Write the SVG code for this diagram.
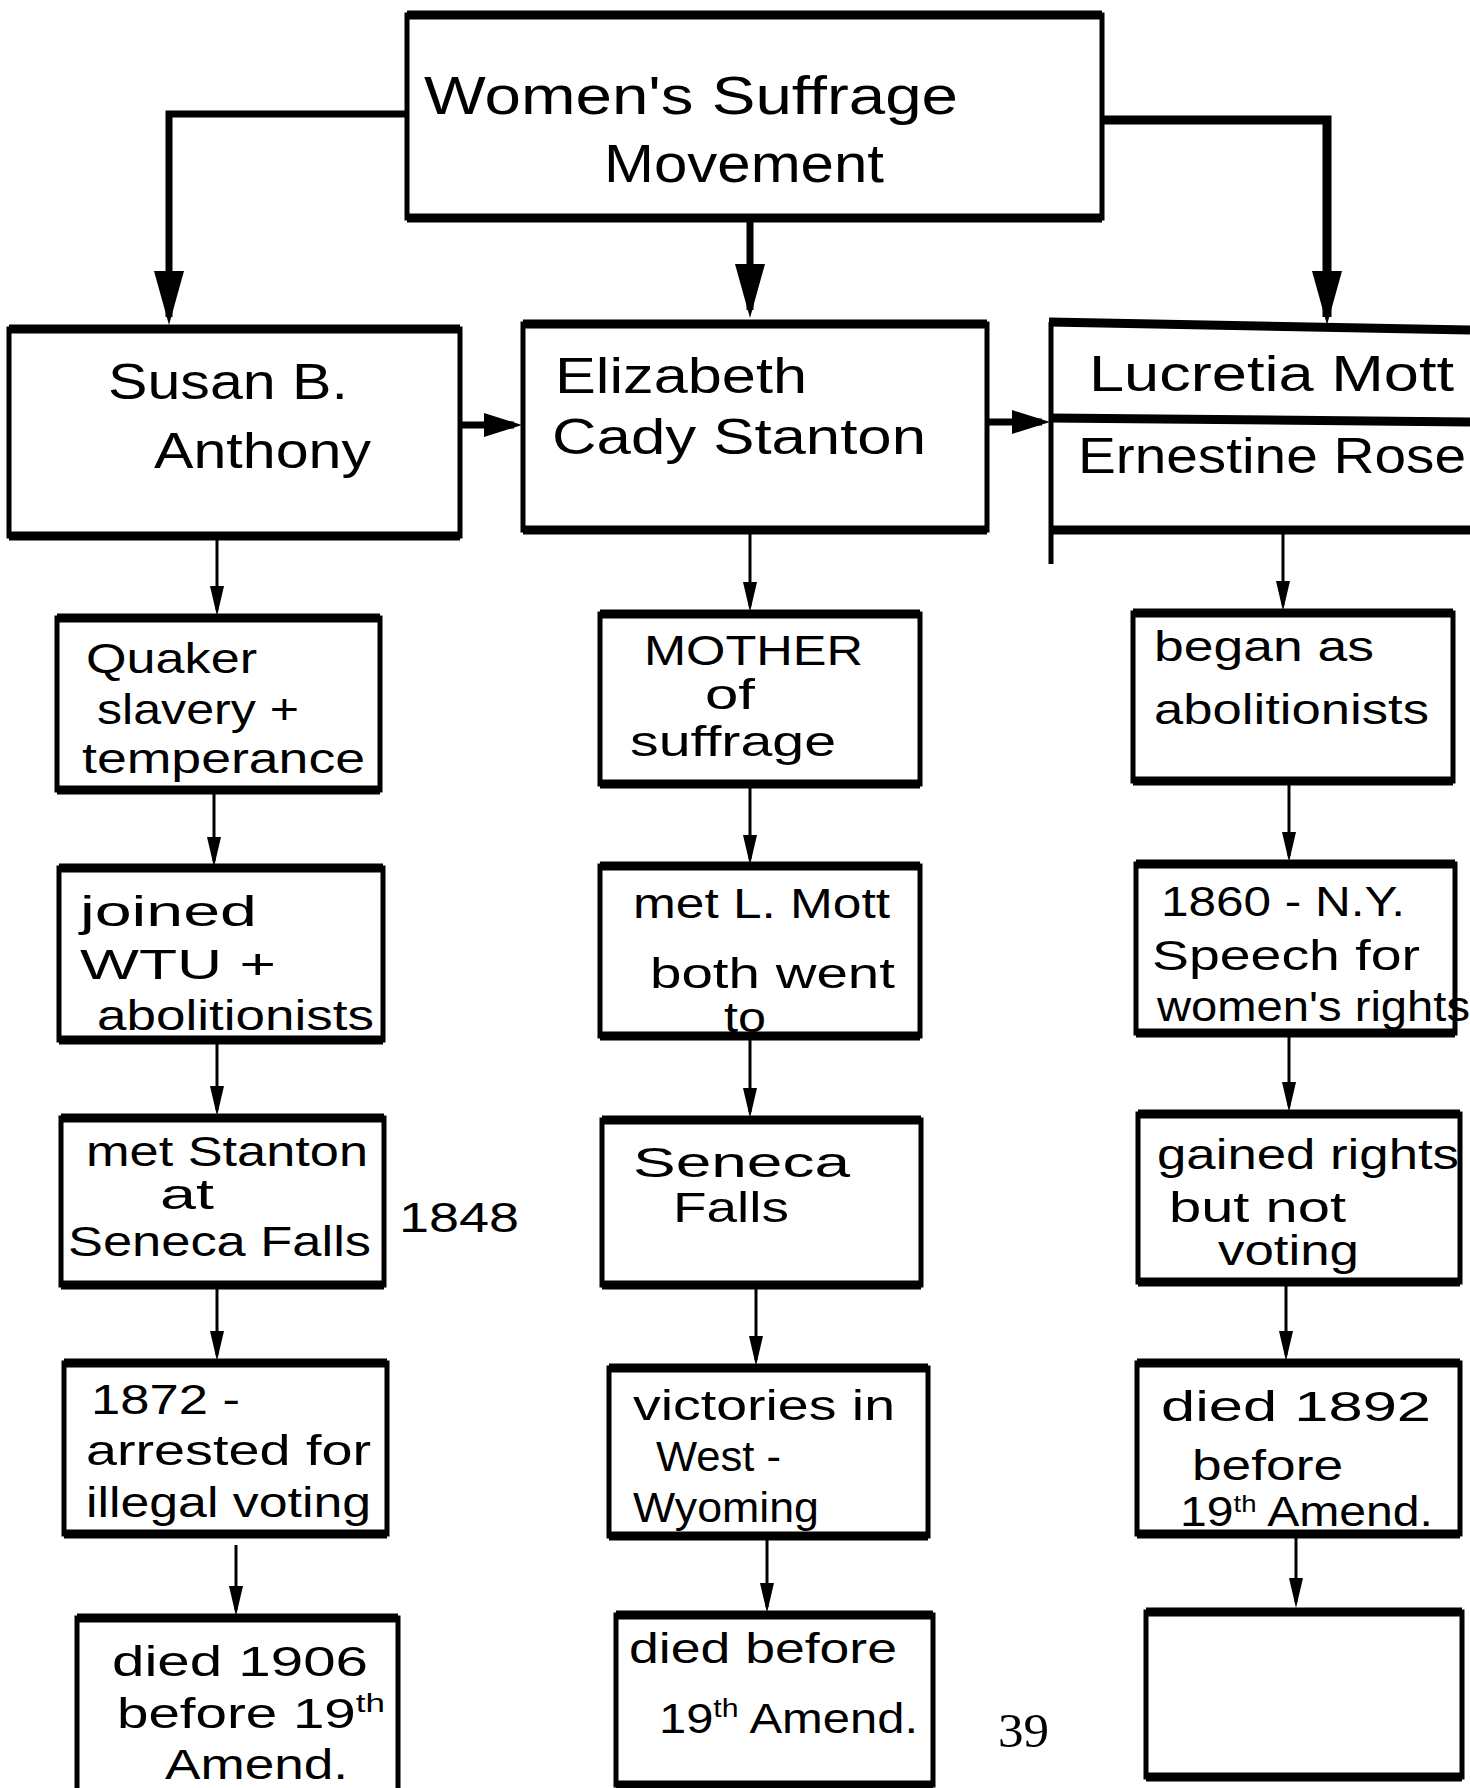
<svg xmlns="http://www.w3.org/2000/svg" width="1470" height="1788" viewBox="0 0 1470 1788">
<style>
.bg{fill:#fff}
.box{fill:#fff;stroke:#000;stroke-width:5}
.edge{fill:none;stroke:#000;stroke-width:9}
.t{font-family:"Liberation Sans",Arial,sans-serif;fill:#000;font-size:42px}
.big{font-size:54px}
.mid{font-size:50px}
.pg{font-family:"Liberation Serif","Times New Roman",serif;font-size:48px;fill:#000}
.c{fill:none;stroke:#000;stroke-width:3}
.ct{fill:none;stroke:#000;stroke-width:7}
</style>
<defs>
<marker id="ah" viewBox="0 0 30 14" refX="24" refY="7" markerWidth="30" markerHeight="14" markerUnits="userSpaceOnUse" orient="auto"><path d="M0,0 L30,7 L0,14 z" fill="#000"/></marker>
<marker id="ahL" viewBox="0 0 54 30" refX="46" refY="15" markerWidth="54" markerHeight="30" markerUnits="userSpaceOnUse" orient="auto"><path d="M0,0 L54,15 L0,30 z" fill="#000"/></marker>
<marker id="ahH" viewBox="0 0 38 24" refX="30" refY="12" markerWidth="38" markerHeight="24" markerUnits="userSpaceOnUse" orient="auto"><path d="M0,0 L38,12 L0,24 z" fill="#000"/></marker>
</defs>
<rect class="bg" x="0" y="0" width="1470" height="1788"/>

<g id="connectors">
<path class="ct" d="M407,114 H169 V317" marker-end="url(#ahL)"/>
<path class="ct" d="M750,222 V310" marker-end="url(#ahL)"/>
<path class="ct" d="M1102,120 H1327 V317" marker-end="url(#ahL)" style="stroke-width:9"/>
<path class="ct" d="M460,425 H514" marker-end="url(#ahH)"/>
<path class="ct" d="M987,422 H1042" marker-end="url(#ahH)"/>
<path class="c" d="M217,538 V610" marker-end="url(#ah)"/>
<path class="c" d="M750,531 V606" marker-end="url(#ah)"/>
<path class="c" d="M1283,530 V605" marker-end="url(#ah)"/>
<path class="c" d="M214,791 V861" marker-end="url(#ah)"/>
<path class="c" d="M750,784 V859" marker-end="url(#ah)"/>
<path class="c" d="M1289,781 V856" marker-end="url(#ah)"/>
<path class="c" d="M217,1040 V1110" marker-end="url(#ah)"/>
<path class="c" d="M750,1036 V1112" marker-end="url(#ah)"/>
<path class="c" d="M1289,1033 V1106" marker-end="url(#ah)"/>
<path class="c" d="M217,1285 V1355" marker-end="url(#ah)"/>
<path class="c" d="M756,1285 V1360" marker-end="url(#ah)"/>
<path class="c" d="M1286,1282 V1355" marker-end="url(#ah)"/>
<path class="c" d="M236,1545 V1610" marker-end="url(#ah)"/>
<path class="c" d="M767,1536 V1607" marker-end="url(#ah)"/>
<path class="c" d="M1296,1534 V1602" marker-end="url(#ah)"/>
</g>

<g id="n-title">
<rect class="box" x="407" y="15" width="695" height="203"/>
<path class="edge" d="M407,15 H1102 M407,218 H1102"/>
<text class="t big" x="424" y="114" textLength="534" lengthAdjust="spacingAndGlyphs">Women's Suffrage</text>
<text class="t big" x="604" y="182" textLength="280" lengthAdjust="spacingAndGlyphs">Movement</text>
</g>

<g id="n-anthony">
<rect class="box" x="9" y="329" width="451" height="207"/>
<path class="edge" d="M9,329 H460 M9,536 H460"/>
<text class="t mid" x="108" y="399" textLength="240" lengthAdjust="spacingAndGlyphs">Susan B.</text>
<text class="t mid" x="154" y="468" textLength="217" lengthAdjust="spacingAndGlyphs">Anthony</text>
</g>

<g id="n-stanton">
<rect class="box" x="523" y="324" width="464" height="206"/>
<path class="edge" d="M523,324 H987 M523,530 H987"/>
<text class="t mid" x="555" y="393" textLength="252" lengthAdjust="spacingAndGlyphs">Elizabeth</text>
<text class="t mid" x="552" y="454" textLength="374" lengthAdjust="spacingAndGlyphs">Cady Stanton</text>
</g>

<g id="n-mott-rose">
<path class="edge" d="M1049,322 L1470,330 M1050,418 L1470,422 M1050,530 H1470"/>
<path class="box" d="M1051,322 V564" fill="none"/>
<text class="t mid" x="1089" y="391" textLength="365" lengthAdjust="spacingAndGlyphs">Lucretia Mott</text>
<text class="t mid" x="1078" y="473" textLength="388" lengthAdjust="spacingAndGlyphs">Ernestine Rose</text>
</g>

<g id="n-quaker">
<rect class="box" x="57" y="618" width="323" height="172"/>
<path class="edge" d="M57,618 H380 M57,790 H380"/>
<text class="t" x="86" y="673" textLength="171" lengthAdjust="spacingAndGlyphs">Quaker</text>
<text class="t" x="97" y="724" textLength="202" lengthAdjust="spacingAndGlyphs">slavery +</text>
<text class="t" x="82" y="773" textLength="283" lengthAdjust="spacingAndGlyphs">temperance</text>
</g>

<g id="n-mother">
<rect class="box" x="600" y="614" width="320" height="170"/>
<path class="edge" d="M600,614 H920 M600,784 H920"/>
<text class="t" x="644" y="665" textLength="219" lengthAdjust="spacingAndGlyphs">MOTHER</text>
<text class="t" x="705" y="709" font-size="34" textLength="50" lengthAdjust="spacingAndGlyphs">of</text>
<text class="t" x="630" y="756" font-size="40" textLength="206" lengthAdjust="spacingAndGlyphs">suffrage</text>
</g>

<g id="n-began">
<rect class="box" x="1133" y="613" width="320" height="168"/>
<path class="edge" d="M1133,613 H1453 M1133,781 H1453"/>
<text class="t" x="1154" y="661" textLength="220" lengthAdjust="spacingAndGlyphs">began as</text>
<text class="t" x="1154" y="724" textLength="275" lengthAdjust="spacingAndGlyphs">abolitionists</text>
</g>

<g id="n-joined">
<rect class="box" x="59" y="868" width="324" height="172"/>
<path class="edge" d="M59,868 H383 M59,1040 H383"/>
<text class="t" x="80" y="926" textLength="177" lengthAdjust="spacingAndGlyphs">joined</text>
<text class="t" x="80" y="979" font-size="40" textLength="196" lengthAdjust="spacingAndGlyphs">WTU +</text>
<text class="t" x="97" y="1030" font-size="40" textLength="277" lengthAdjust="spacingAndGlyphs">abolitionists</text>
</g>

<g id="n-metmott">
<rect class="box" x="600" y="866" width="320" height="170"/>
<path class="edge" d="M600,866 H920 M600,1036 H920"/>
<text class="t" x="633" y="918" textLength="257" lengthAdjust="spacingAndGlyphs">met L. Mott</text>
<text class="t" x="650" y="988" font-size="40" textLength="245" lengthAdjust="spacingAndGlyphs">both went</text>
<text class="t" x="724" y="1032" font-size="30" textLength="42" lengthAdjust="spacingAndGlyphs">to</text>
</g>

<g id="n-1860">
<rect class="box" x="1136" y="864" width="319" height="169"/>
<path class="edge" d="M1136,864 H1455 M1136,1033 H1455"/>
<text class="t" x="1161" y="916" font-size="40" textLength="244" lengthAdjust="spacingAndGlyphs">1860 - N.Y.</text>
<text class="t" x="1152" y="970" font-size="40" textLength="268" lengthAdjust="spacingAndGlyphs">Speech for</text>
<text class="t" x="1157" y="1021" font-size="40" textLength="313" lengthAdjust="spacingAndGlyphs">women's rights</text>
</g>

<g id="n-metstanton">
<rect class="box" x="61" y="1118" width="323" height="167"/>
<path class="edge" d="M61,1118 H384 M61,1285 H384"/>
<text class="t" x="86" y="1166" font-size="34" textLength="282" lengthAdjust="spacingAndGlyphs">met Stanton</text>
<text class="t" x="160" y="1209" font-size="28" textLength="54" lengthAdjust="spacingAndGlyphs">at</text>
<text class="t" x="68" y="1256" font-size="36" textLength="303" lengthAdjust="spacingAndGlyphs">Seneca Falls</text>
</g>
<text class="t" x="399" y="1232" font-size="38" textLength="120" lengthAdjust="spacingAndGlyphs">1848</text>

<g id="n-seneca">
<rect class="box" x="602" y="1120" width="319" height="165"/>
<path class="edge" d="M602,1120 H921 M602,1285 H921"/>
<text class="t" x="633" y="1177" textLength="217" lengthAdjust="spacingAndGlyphs">Seneca</text>
<text class="t" x="673" y="1222" font-size="38" textLength="116" lengthAdjust="spacingAndGlyphs">Falls</text>
</g>

<g id="n-gained">
<rect class="box" x="1138" y="1114" width="322" height="168"/>
<path class="edge" d="M1138,1114 H1460 M1138,1282 H1460"/>
<text class="t" x="1157" y="1169" font-size="40" textLength="302" lengthAdjust="spacingAndGlyphs">gained rights</text>
<text class="t" x="1169" y="1222" font-size="30" textLength="177" lengthAdjust="spacingAndGlyphs">but not</text>
<text class="t" x="1218" y="1265" font-size="30" textLength="141" lengthAdjust="spacingAndGlyphs">voting</text>
</g>

<g id="n-1872">
<rect class="box" x="64" y="1363" width="323" height="171"/>
<path class="edge" d="M64,1363 H387 M64,1534 H387"/>
<text class="t" x="91" y="1414" textLength="149" lengthAdjust="spacingAndGlyphs">1872 -</text>
<text class="t" x="86" y="1465" textLength="285" lengthAdjust="spacingAndGlyphs">arrested for</text>
<text class="t" x="86" y="1517" textLength="285" lengthAdjust="spacingAndGlyphs">illegal voting</text>
</g>

<g id="n-victories">
<rect class="box" x="609" y="1368" width="319" height="168"/>
<path class="edge" d="M609,1368 H928 M609,1536 H928"/>
<text class="t" x="633" y="1420" textLength="262" lengthAdjust="spacingAndGlyphs">victories in</text>
<text class="t" x="656" y="1471" textLength="125" lengthAdjust="spacingAndGlyphs">West -</text>
<text class="t" x="633" y="1522" textLength="186" lengthAdjust="spacingAndGlyphs">Wyoming</text>
</g>

<g id="n-died1892">
<rect class="box" x="1137" y="1363" width="323" height="171"/>
<path class="edge" d="M1137,1363 H1460 M1137,1534 H1460"/>
<text class="t" x="1161" y="1421" textLength="270" lengthAdjust="spacingAndGlyphs">died 1892</text>
<text class="t" x="1192" y="1480" font-size="38" textLength="151" lengthAdjust="spacingAndGlyphs">before</text>
<text class="t" x="1180" y="1526" font-size="38" textLength="253" lengthAdjust="spacingAndGlyphs">19<tspan font-size="24" dy="-14">th</tspan><tspan dy="14"> Amend.</tspan></text>
</g>

<g id="n-died1906">
<rect class="box" x="77" y="1618" width="321" height="190"/>
<path class="edge" d="M77,1618 H398"/>
<text class="t" x="112" y="1676" textLength="256" lengthAdjust="spacingAndGlyphs">died 1906</text>
<text class="t" x="117" y="1728" textLength="268" lengthAdjust="spacingAndGlyphs">before 19<tspan font-size="26" dy="-16">th</tspan></text>
<text class="t" x="165" y="1779" textLength="183" lengthAdjust="spacingAndGlyphs">Amend.</text>
</g>

<g id="n-diedbefore">
<rect class="box" x="616" y="1615" width="317" height="170"/>
<path class="edge" d="M616,1615 H933 M616,1785 H933"/>
<text class="t" x="629" y="1663" textLength="268" lengthAdjust="spacingAndGlyphs">died before</text>
<text class="t" x="659" y="1733" textLength="259" lengthAdjust="spacingAndGlyphs">19<tspan font-size="26" dy="-16">th</tspan><tspan dy="16"> Amend.</tspan></text>
</g>

<g id="n-empty">
<rect class="box" x="1146" y="1612" width="316" height="165"/>
<path class="edge" d="M1146,1612 H1462 M1146,1777 H1462"/>
</g>

<text class="pg" x="998" y="1747" textLength="51" lengthAdjust="spacingAndGlyphs">39</text>
</svg>
